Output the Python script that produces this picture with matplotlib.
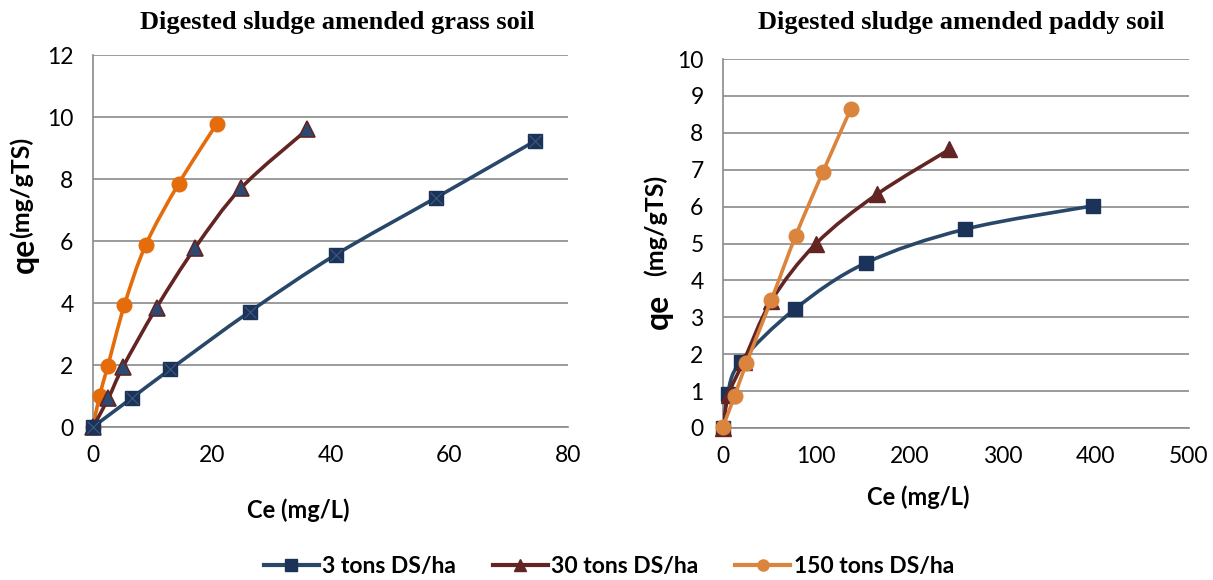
import numpy as np
import matplotlib
matplotlib.use('Agg')
import matplotlib.pyplot as plt
from matplotlib.path import Path
import matplotlib.patches as patches
from matplotlib.lines import Line2D

# ---- data ----
series_labels = ['3 tons DS/ha', '30 tons DS/ha', '150 tons DS/ha']

# grass soil
grass_ce_3 = [0, 6.5, 13.0, 26.4, 40.9, 57.7, 74.4]
grass_qe_3 = [0, 0.93, 1.86, 3.72, 5.56, 7.39, 9.22]
grass_ce_30 = [0, 2.6, 5.0, 10.7, 17.2, 25.0, 36.1]
grass_qe_30 = [0, 0.93, 1.92, 3.85, 5.78, 7.72, 9.6]
grass_ce_150 = [0, 1.1, 2.5, 5.3, 8.9, 14.4, 20.8]
grass_qe_150 = [0, 1.0, 1.97, 3.94, 5.88, 7.84, 9.77]

# paddy soil
paddy_ce_3 = [0, 5, 19, 77, 153, 260, 397]
paddy_qe_3 = [0, 0.93, 1.8, 3.22, 4.47, 5.39, 6.02]
paddy_ce_30 = [0, 6, 22, 52, 100, 165, 243]
paddy_qe_30 = [0, 0.9, 1.8, 3.45, 5.0, 6.33, 7.55]
paddy_ce_150 = [0, 12.5, 25, 52, 78, 107, 137]
paddy_qe_150 = [0.04, 0.87, 1.75, 3.48, 5.21, 6.93, 8.64]

# ---- styles ----
c_blue_line = '#284769'
c_blue_mark = '#1B3358'
c_brown = '#632523'
c_orange_l = '#E46C0A'
c_orange_r = '#DB843D'
grid_c = '#8A8A8A'

W, H = 1213, 580
plt.rcParams['font.family'] = ['Lato', 'DejaVu Sans']


def smooth_line(ax, x, y, color, lw=2.6, zorder=2):
    """Excel style smoothed line: Catmull-Rom segments as cubic Bezier path."""
    p = np.column_stack([x, y]).astype(float)
    n = len(p)
    verts = [p[0]]
    codes = [Path.MOVETO]
    for i in range(n - 1):
        p0 = p[i - 1] if i > 0 else p[i]
        p3 = p[i + 2] if i + 2 < n else p[i + 1]
        c1 = p[i] + (p[i + 1] - p0) / 6.0
        c2 = p[i + 1] - (p3 - p[i]) / 6.0
        verts += [c1, c2, p[i + 1]]
        codes += [Path.CURVE4] * 3
    patch = patches.PathPatch(Path(verts, codes), fill=False, edgecolor=color,
                              lw=lw, zorder=zorder, capstyle='round')
    ax.add_patch(patch)


def style_axes(ax, xmax, ymax, ystep, xstep):
    ax.set_xlim(0, xmax)
    ax.set_ylim(0, ymax)
    ax.set_xticks(np.arange(0, xmax + 1, xstep))
    ax.set_yticks(np.arange(0, ymax + 0.01, ystep))
    ax.yaxis.grid(True, color=grid_c, lw=1.2)
    ax.set_axisbelow(True)
    for s in ['top', 'right']:
        ax.spines[s].set_visible(False)
    for s in ['left', 'bottom']:
        ax.spines[s].set_color(grid_c)
        ax.spines[s].set_linewidth(1.2)
    ax.tick_params(length=0, labelsize=16.5, colors='black')
    ax.tick_params(axis='x', pad=13)
    ax.tick_params(axis='y', pad=14)


def ylabel_pieces(fig, x, y_bottom, gap=0):
    """Big 'qe' followed upward by smaller units, rotated."""
    t1 = fig.text(x / W, 1 - y_bottom / H, 'qe', weight='bold', fontsize=23,
                  rotation=90, ha='center', va='bottom')
    fig.canvas.draw()
    bb = t1.get_window_extent()
    fig.text((x - 3) / W, (bb.y1 + gap) / H, '(mg/gTS)', weight='bold', fontsize=18,
             rotation=90, ha='center', va='bottom')


fig = plt.figure(figsize=(W / 100, H / 100), dpi=100)
ax1 = fig.add_axes([93 / W, 1 - 427 / H, 475 / W, 372 / H])
ax2 = fig.add_axes([723 / W, 1 - 428 / H, 466 / W, 369 / H])
for ax in (ax1, ax2):
    ax.patch.set_alpha(0)

# ---- left: grass soil ----
style_axes(ax1, 80, 12, 2, 20)
smooth_line(ax1, grass_ce_150, grass_qe_150, c_orange_l, zorder=2)
ax1.plot(grass_ce_150, grass_qe_150, 'o', ms=10.5, color=c_orange_l, zorder=3, clip_on=False)
smooth_line(ax1, grass_ce_30, grass_qe_30, c_brown, zorder=4)
ax1.plot(grass_ce_30, grass_qe_30, '^', ms=11, mfc='#2A4A73', mec=c_brown, mew=1.2, zorder=5, clip_on=False)
smooth_line(ax1, grass_ce_3, grass_qe_3, c_blue_line, zorder=6)
ax1.plot(grass_ce_3, grass_qe_3, 's', ms=10.5, color=c_blue_mark, zorder=7, clip_on=False)
ax1.plot(grass_ce_3, grass_qe_3, 'x', ms=8.5, mew=0.8, color='#3D5A80', zorder=8, clip_on=False)

# ---- right: paddy soil ----
style_axes(ax2, 500, 10, 1, 100)
smooth_line(ax2, paddy_ce_3, paddy_qe_3, c_blue_line, zorder=2)
ax2.plot(paddy_ce_3, paddy_qe_3, 's', ms=10.5, color=c_blue_mark, zorder=3, clip_on=False)
smooth_line(ax2, paddy_ce_30, paddy_qe_30, c_brown, zorder=4)
ax2.plot(paddy_ce_30, paddy_qe_30, '^', ms=11.5, color=c_brown, zorder=5, clip_on=False)
smooth_line(ax2, paddy_ce_150, paddy_qe_150, c_orange_r, zorder=6)
ax2.plot(paddy_ce_150, paddy_qe_150, 'o', ms=10.5, color=c_orange_r, zorder=7, clip_on=False)

# ---- titles ----
tkw = dict(family=['Liberation Serif', 'DejaVu Serif'], weight='bold', fontsize=19,
           ha='center', va='center')
fig.text(337 / W, 1 - 23 / H, 'Digested sludge amended grass soil', **tkw)
fig.text(961 / W, 1 - 23 / H, 'Digested sludge amended paddy soil', **tkw)

# ---- axis labels ----
fig.text(298 / W, 1 - 510 / H, 'Ce (mg/L)', weight='bold', fontsize=17,
         ha='center', va='center')
fig.text(918 / W, 1 - 497 / H, 'Ce (mg/L)', weight='bold', fontsize=17,
         ha='center', va='center')

ylabel_pieces(fig, 24, 273, gap=0)
ylabel_pieces(fig, 658, 329, gap=18)

# ---- legend ----
handles = [
    Line2D([], [], color=c_blue_line, lw=3, marker='s', ms=8, mfc=c_blue_mark, mec=c_blue_mark),
    Line2D([], [], color=c_brown, lw=3, marker='^', ms=9, mfc=c_brown, mec=c_brown),
    Line2D([], [], color=c_orange_r, lw=3, marker='o', ms=8, mfc=c_orange_r, mec=c_orange_r),
]
fig.legend(handles, series_labels, loc='center', bbox_to_anchor=(609 / W, 1 - 567 / H),
           ncol=3, frameon=False, prop={'weight': 'bold', 'size': 16.5},
           handlelength=2.4, handletextpad=0.15, columnspacing=1.6,
           borderpad=0, borderaxespad=0)

fig.savefig('out.png', dpi=100)
